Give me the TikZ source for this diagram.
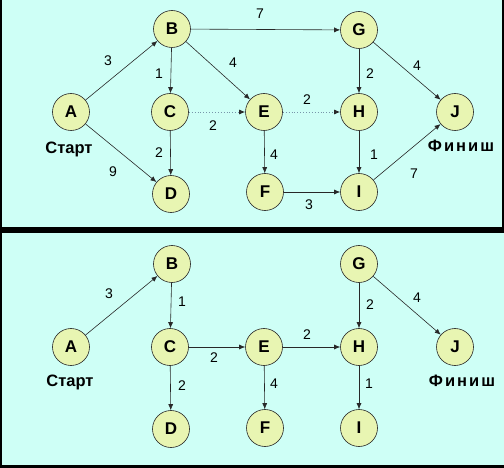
\documentclass[tikz,border=0pt]{standalone}
\usepackage{fontspec}
\setmainfont{Liberation Sans}
\usetikzlibrary{arrows.meta}
\definecolor{bgc}{RGB}{206,255,246}
\definecolor{nodefill}{RGB}{232,245,178}
\definecolor{edgec}{RGB}{40,40,40}
\definecolor{dotc}{RGB}{120,150,170}
\begin{document}
\begin{tikzpicture}[x=1pt,y=-1pt,
  vtx/.style={circle,draw=black!85,line width=0.6pt,fill=nodefill,minimum size=37pt,inner sep=0pt,font=\fontsize{17}{17}\selectfont\bfseries},
  edge/.style={draw=edgec,line width=0.6pt,-{Latex[length=6pt,width=5pt]}},
  dotedge/.style={draw=dotc,line width=0.9pt,dotted,-{Latex[length=6pt,width=5pt,color=edgec]}},
  wlab/.style={font=\fontsize{14}{14}\selectfont,inner sep=0pt},
  tlab/.style={font=\fontsize{16.5}{16}\selectfont\bfseries,inner sep=0pt},
  flab/.style={font=\addfontfeatures{LetterSpace=12}\fontsize{16.5}{16}\selectfont\bfseries,inner sep=0pt}]
\useasboundingbox (0,0) rectangle (504,468);
\fill[black] (0,0) rectangle (504,468);
\fill[bgc] (2,0) rectangle (502,227);
\fill[bgc] (2,233) rectangle (504,465);

% ---------- top panel ----------
\node[vtx] (A) at (71,112) {A};
\node[vtx] (B) at (172,29) {B};
\node[vtx] (C) at (170,112) {C};
\node[vtx] (D) at (171,194) {D};
\node[vtx] (E) at (264,112) {E};
\node[vtx] (F) at (265,192) {F};
\node[vtx] (G) at (359,30) {G};
\node[vtx] (H) at (359,112) {H};
\node[vtx] (I) at (359,192) {I};
\node[vtx] (J) at (455,112) {J};

\draw[edge] (A) -- (B);
\draw[edge] (A) -- (D);
\draw[edge] (B) -- (C);
\draw[edge] (B) -- (E);
\draw[edge] (B) -- (G);
\draw[edge] (C) -- (D);
\draw[dotedge] (C) -- (E);
\draw[dotedge] (E) -- (H);
\draw[edge] (E) -- (F);
\draw[edge] (F) -- (I);
\draw[edge] (G) -- (H);
\draw[edge] (G) -- (J);
\draw[edge] (H) -- (I);
\draw[edge] (I) -- (J);

\node[wlab] (w1) at (108,61) {3};
\node[wlab] (w2) at (159,74) {1};
\node[wlab] (w3) at (233,63) {4};
\node[wlab] (w4) at (260,14) {7};
\node[wlab] (w5) at (213,126) {2};
\node[wlab] (w6) at (159,153) {2};
\node[wlab] (w7) at (113,172) {9};
\node[wlab] (w8) at (307,100) {2};
\node[wlab] (w9) at (274,155) {4};
\node[wlab] (w10) at (309,205) {3};
\node[wlab] (w11) at (370,74) {2};
\node[wlab] (w12) at (417,66) {4};
\node[wlab] (w13) at (374,155) {1};
\node[wlab] (w14) at (414,174) {7};
\node[tlab] (start1) at (69,149) {Старт};
\node[flab] (fin1) at (461,146) {Финиш};

% ---------- bottom panel ----------
\node[vtx] (A2) at (71,347) {A};
\node[vtx] (B2) at (172,264) {B};
\node[vtx] (C2) at (170,347) {C};
\node[vtx] (D2) at (171,429) {D};
\node[vtx] (E2) at (264,347) {E};
\node[vtx] (F2) at (265,428) {F};
\node[vtx] (G2) at (359,264) {G};
\node[vtx] (H2) at (359,347) {H};
\node[vtx] (I2) at (359,428) {I};
\node[vtx] (J2) at (455,347) {J};

\draw[edge] (A2) -- (B2);
\draw[edge] (B2) -- (C2);
\draw[edge] (C2) -- (E2);
\draw[edge] (C2) -- (D2);
\draw[edge] (E2) -- (H2);
\draw[edge] (E2) -- (F2);
\draw[edge] (G2) -- (H2);
\draw[edge] (G2) -- (J2);
\draw[edge] (H2) -- (I2);

\node[wlab] (v1) at (109,294) {3};
\node[wlab] (v2) at (182,302) {1};
\node[wlab] (v3) at (214,358) {2};
\node[wlab] (v4) at (182,386) {2};
\node[wlab] (v5) at (370,305) {2};
\node[wlab] (v6) at (417,298) {4};
\node[wlab] (v7) at (307,335) {2};
\node[wlab] (v8) at (274,384) {4};
\node[wlab] (v9) at (369,384) {1};
\node[tlab] (start2) at (70,382) {Старт};
\node[flab] (fin2) at (462,381) {Финиш};
\end{tikzpicture}
\end{document}
